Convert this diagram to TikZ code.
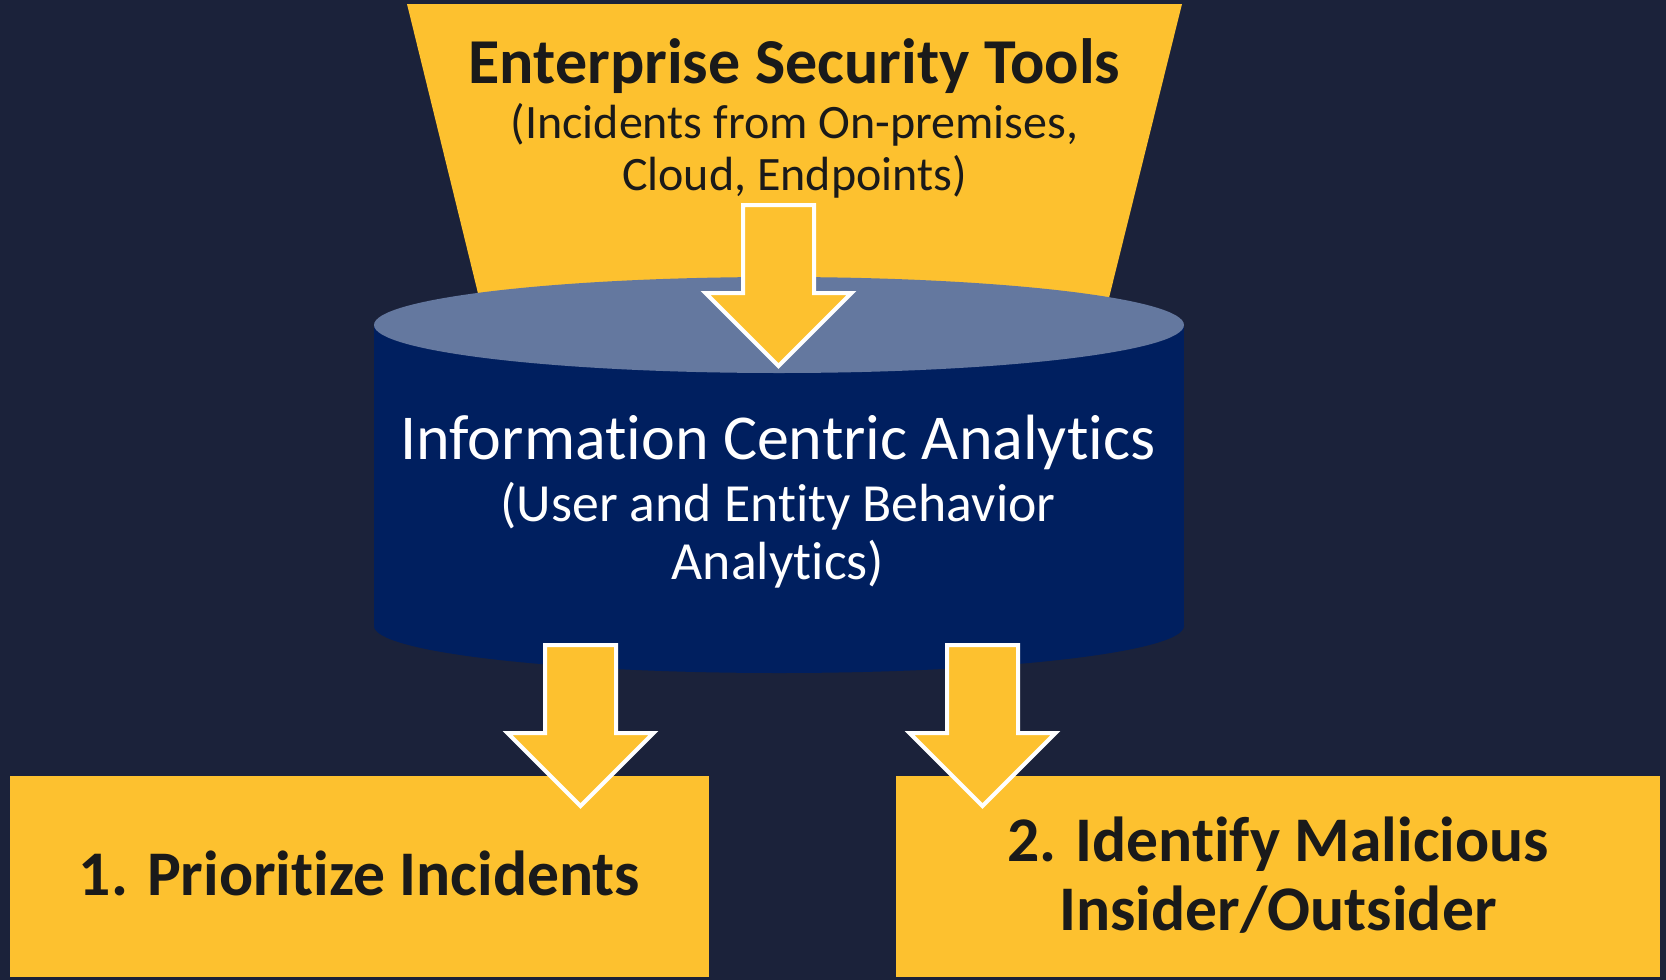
\documentclass[tikz,border=0pt]{standalone}
\usepackage{fontspec}
\setmainfont{Carlito}[Ligatures=NoCommon]
\definecolor{bgnavy}{HTML}{1B223A}
\definecolor{gold}{HTML}{FDC12F}
\definecolor{lidblue}{HTML}{64789F}
\definecolor{drumblue}{HTML}{001F5F}
\definecolor{ink}{HTML}{1A1A1A}
\tikzset{
  darktxt/.style={text=ink, inner sep=0pt, anchor=base},
  lighttxt/.style={text=white, inner sep=0pt, anchor=base},
  blockarrow/.pic={
    \draw[fill=gold, draw=white, line width=4pt, line join=miter]
      (-35.5,0) -- (35.5,0) -- (35.5,88) -- (73,88) -- (0,161)
      -- (-73,88) -- (-35.5,88) -- cycle;
  },
}
\begin{document}
\begin{tikzpicture}[x=1pt, y=-1pt]
  % canvas
  \fill[bgnavy] (0,0) rectangle (1666,980);
  \useasboundingbox (0,0) rectangle (1666,980);

  % funnel of security tools
  \fill[gold] (407,4) -- (1182,4) -- (1101,330) -- (487,330) -- cycle;
  \node[darktxt, font=\bfseries\fontsize{64}{76}\selectfont] (tools) at (794.5,83) {Enterprise Security Tools};
  \node[darktxt, font=\fontsize{48}{58}\selectfont] (tools2) at (794.5,138) {(Incidents from On-premises,};
  \node[darktxt, font=\fontsize{48}{58}\selectfont] (tools3) at (794.5,190) {Cloud, Endpoints)};

  % analytics drum
  \fill[drumblue] (374,325) rectangle (1184,626);
  \fill[drumblue] (779,626) ellipse [x radius=405, y radius=47];
  \fill[lidblue] (779,325) ellipse [x radius=405, y radius=48];
  \node[lighttxt, font=\fontsize{64}{76}\selectfont] (uba) at (778,459) {Information Centric Analytics};
  \node[lighttxt, font=\fontsize{53.7}{64}\selectfont] (uba2) at (778,521) {(User and Entity Behavior};
  \node[lighttxt, font=\fontsize{53.7}{64}\selectfont] (uba3) at (778,579) {Analytics)};

  % outcome boxes
  \node[fill=gold, minimum width=699, minimum height=201, inner sep=0pt] (prio) at (359.5,876.5) {};
  \node[fill=gold, minimum width=764, minimum height=201, inner sep=0pt] (ident) at (1278,876.5) {};

  % flow arrows
  \coordinate (a0) at (778.5,205);
  \coordinate (a1) at (580.5,645);
  \coordinate (a2) at (982.5,645);
  \pic at (a0) {blockarrow};
  \pic at (a1) {blockarrow};
  \pic at (a2) {blockarrow};

  \node[darktxt, font=\bfseries\fontsize{63.6}{76}\selectfont] (priot) at (359.5,895) {1. Prioritize Incidents};
  \node[darktxt, font=\bfseries\fontsize{63.6}{76}\selectfont] (identt) at (1278,861) {2. Identify Malicious};
  \node[darktxt, font=\bfseries\fontsize{63.6}{76}\selectfont] (identt2) at (1278,930) {Insider/Outsider};
\end{tikzpicture}
\end{document}
